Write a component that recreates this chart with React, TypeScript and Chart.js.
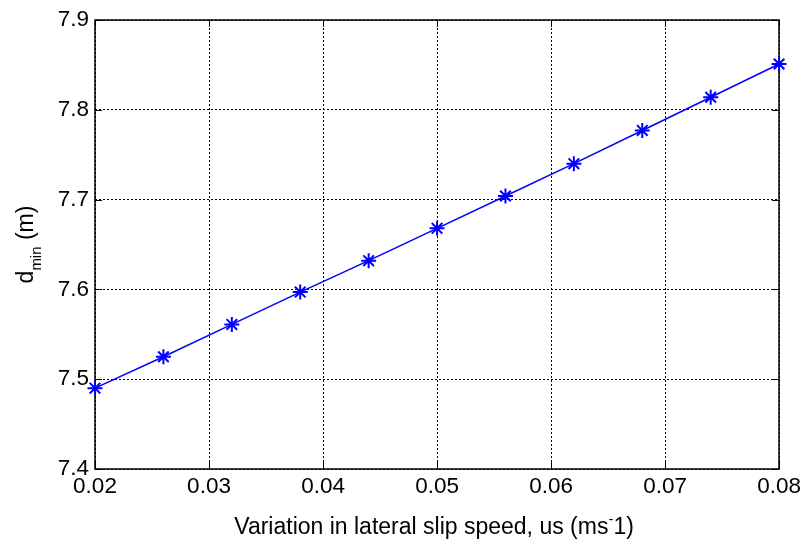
import { useEffect, useRef } from "react";
import { Chart, registerables } from "chart.js";

Chart.register(...registerables);

const slipSpeed = [0.02, 0.026, 0.032, 0.038, 0.044, 0.05, 0.056, 0.062, 0.068, 0.074, 0.08];
const dMin = [7.49, 7.525, 7.561, 7.597, 7.632, 7.668, 7.704, 7.74, 7.777, 7.814, 7.851];
const xTickValues = [0.02, 0.03, 0.04, 0.05, 0.06, 0.07, 0.08];
const yTickValues = [7.4, 7.5, 7.6, 7.7, 7.8, 7.9];

const FONT = "'Liberation Sans', Arial, Helvetica, sans-serif";
const MAIN_SIZE = 23;
const TICK_SIZE = 22.5;
const SMALL_SIZE = 15;

const framePlugin = {
  id: "frame",
  beforeDatasetsDraw(chart: any) {
    const { ctx, chartArea } = chart;
    const { left, right, top, bottom } = chartArea;
    const xs = chart.scales.x;
    const ys = chart.scales.y;
    const tl = 7;
    ctx.save();
    ctx.strokeStyle = "#000";
    ctx.lineWidth = 1.5;
    ctx.setLineDash([]);
    ctx.beginPath();
    ctx.rect(Math.round(left), Math.round(top), Math.round(right - left), Math.round(bottom - top));
    ctx.stroke();
    ctx.lineWidth = 1;
    ctx.beginPath();
    xTickValues.forEach((v) => {
      const px = Math.round(xs.getPixelForValue(v)) + 0.5;
      ctx.moveTo(px, bottom);
      ctx.lineTo(px, bottom - tl);
      ctx.moveTo(px, top);
      ctx.lineTo(px, top + tl);
    });
    yTickValues.forEach((v) => {
      const py = Math.round(ys.getPixelForValue(v)) + 0.5;
      ctx.moveTo(left, py);
      ctx.lineTo(left + tl, py);
      ctx.moveTo(right, py);
      ctx.lineTo(right - tl, py);
    });
    ctx.stroke();
    ctx.restore();
  },
};

type Seg = { text: string; size: number; dy: number };

function drawSegs(ctx: CanvasRenderingContext2D, segs: Seg[], x: number, y: number) {
  let total = 0;
  segs.forEach((s) => {
    ctx.font = `${s.size}px ${FONT}`;
    total += ctx.measureText(s.text).width;
  });
  let cx = x - total / 2;
  segs.forEach((s) => {
    ctx.font = `${s.size}px ${FONT}`;
    ctx.fillText(s.text, cx, y + s.dy);
    cx += ctx.measureText(s.text).width;
  });
}

const titlePlugin = {
  id: "titles",
  afterDraw(chart: any) {
    const { ctx, chartArea } = chart;
    ctx.save();
    ctx.fillStyle = "#000";
    ctx.textBaseline = "alphabetic";
    ctx.textAlign = "left";
    const cx = (chartArea.left + chartArea.right) / 2 - 3;
    drawSegs(
      ctx,
      [
        { text: "Variation in lateral slip speed, us (ms", size: MAIN_SIZE, dy: 0 },
        { text: "-", size: SMALL_SIZE, dy: -10 },
        { text: "1)", size: MAIN_SIZE, dy: 0 },
      ],
      cx,
      534
    );
    const cy = (chartArea.top + chartArea.bottom) / 2;
    ctx.translate(33, cy);
    ctx.rotate(-Math.PI / 2);
    drawSegs(
      ctx,
      [
        { text: "d", size: MAIN_SIZE, dy: 0 },
        { text: "min", size: SMALL_SIZE, dy: 8 },
        { text: " (m)", size: MAIN_SIZE, dy: 0 },
      ],
      0,
      0
    );
    ctx.restore();
  },
};

export default function App() {
  const ref = useRef<HTMLCanvasElement | null>(null);
  useEffect(() => {
    document.body.style.margin = "0";
    const canvas = ref.current;
    if (!canvas) return;
    const chart = new Chart(canvas, {
      type: "line",
      data: {
        datasets: [
          {
            data: slipSpeed.map((x, i) => ({ x, y: dMin[i] })),
            borderColor: "#0000ff",
            backgroundColor: "#0000ff",
            borderWidth: 1.5,
            pointStyle: "star",
            pointRadius: 7.5,
            pointBorderWidth: 2,
            pointBorderColor: "#0000ff",
            tension: 0,
            clip: false as any,
          },
        ],
      },
      options: {
        animation: false,
        responsive: false,
        events: [],
        layout: { padding: { top: 20, right: 25, bottom: 0, left: 0 } },
        plugins: { legend: { display: false }, tooltip: { enabled: false } },
        scales: {
          x: {
            type: "linear",
            min: 0.02,
            max: 0.08,
            afterBuildTicks: (s: any) => {
              s.ticks = xTickValues.map((value) => ({ value }));
            },
            afterFit: (s: any) => {
              s.height = 76;
            },
            ticks: {
              color: "#000",
              font: { family: FONT, size: TICK_SIZE },
              padding: 4,
              maxRotation: 0,
              autoSkip: false,
              callback: (v: any) => Number(v).toFixed(2),
            },
            grid: { color: "#000", lineWidth: 1, drawTicks: false, borderDash: [2, 2] } as any,
            border: { display: false, dash: [2, 2] },
          },
          y: {
            type: "linear",
            min: 7.4,
            max: 7.9,
            afterBuildTicks: (s: any) => {
              s.ticks = yTickValues.map((value) => ({ value }));
            },
            afterFit: (s: any) => {
              s.width = 95;
            },
            ticks: {
              color: "#000",
              font: { family: FONT, size: TICK_SIZE },
              padding: 6,
              autoSkip: false,
              callback: (v: any) => Number(v).toFixed(1),
            },
            grid: { color: "#000", lineWidth: 1, drawTicks: false, borderDash: [2, 2] } as any,
            border: { display: false, dash: [2, 2] },
          },
        },
      },
      plugins: [framePlugin, titlePlugin],
    });
    return () => chart.destroy();
  }, []);
  return <canvas ref={ref} width={805} height={545} style={{ display: "block" }} />;
}
